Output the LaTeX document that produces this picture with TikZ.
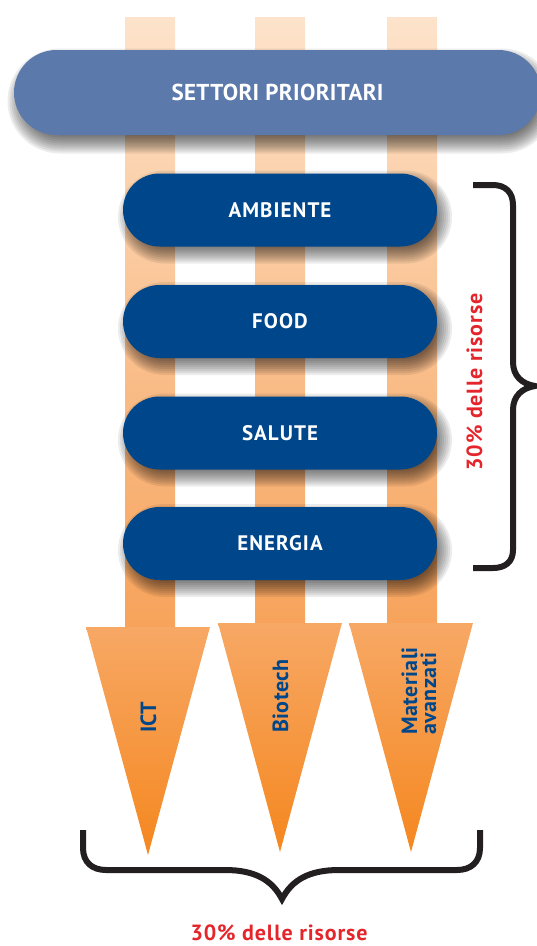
\documentclass[tikz,border=0pt]{standalone}
\usepackage{fontspec}
\setmainfont{PT Sans}
\newfontfamily\topfont[LetterSpace=1.5]{PT Sans}
\newfontfamily\boxfont[LetterSpace=5]{PT Sans}
\newfontfamily\techfont[LetterSpace=2]{PT Sans}
\newfontfamily\resfont[LetterSpace=4]{PT Sans}
\usetikzlibrary{shapes.misc}
\definecolor{topBlue}{HTML}{5C79AB}
\definecolor{darkBlue}{HTML}{00468A}
\definecolor{resRed}{HTML}{E4262C}
\definecolor{braceBlack}{HTML}{231F20}
\definecolor{shaftTop}{HTML}{FDE3CB}
\definecolor{shaftBot}{HTML}{F7A25A}
\definecolor{headTop}{HTML}{F7A865}
\definecolor{headBot}{HTML}{F5871F}
\newcommand\softshadow[4]{%
  \foreach \e in {10,8,...,-8}{%
    \pgfmathsetmacro\rr{#4/2+\e-0.05}%
    \fill[black,opacity=0.075,rounded corners=\rr pt]
      ({#1-#3/2-(\e)},{#2-#4/2-(\e)}) rectangle ({#1+#3/2+(\e)},{#2+#4/2+(\e)});
  }}
\begin{document}
\begin{tikzpicture}[x=1pt,y=-1pt,
  topbox/.style={rounded rectangle, fill=topBlue, minimum width=527pt, minimum height=85pt,
    inner sep=0pt, text=white, font=\fontsize{23}{23}\topfont\bfseries},
  sectorbox/.style={rounded rectangle, fill=darkBlue, minimum width=314pt, minimum height=73pt,
    inner sep=0pt, text=white, font=\fontsize{21}{21}\boxfont\bfseries},
  shaft/.style={top color=shaftTop, bottom color=shaftBot},
  head/.style={top color=headTop, bottom color=headBot},
  techlbl/.style={rotate=90, anchor=base west, inner sep=0pt, text=darkBlue,
    font=\fontsize{22}{22}\techfont\bfseries},
  reslbl/.style={inner sep=0pt, text=resRed, font=\fontsize{22}{22}\resfont\bfseries},
  bracestroke/.style={draw=braceBlack, line width=6pt, line join=miter}]
\useasboundingbox (0,0) rectangle (537,946);
\clip (0,0) rectangle (537,946);
% vertical shafts
\shade[shaft] (125,17) rectangle (175,632);
\shade[shaft] (255,17) rectangle (305,632);
\shade[shaft] (387,17) rectangle (437,632);
% arrowheads
\shade[head] (86,627) -- (210,627) -- (148,855) -- cycle;
\shade[head] (218,623) -- (342,623) -- (280,852) -- cycle;
\shade[head] (349,623) -- (473,623) -- (411,852) -- cycle;
% shadows
\softshadow{281}{101}{527}{85}
\softshadow{285}{217}{314}{73}
\softshadow{285}{328.5}{314}{73}
\softshadow{285}{440}{314}{73}
\softshadow{285}{550.5}{314}{73}
% boxes
\node[topbox] (settori) at (277.5,92.5) {SETTORI PRIORITARI};
\node[sectorbox] (ambiente) at (280,210) {AMBIENTE};
\node[sectorbox] (food) at (280,321.5) {FOOD};
\node[sectorbox] (salute) at (280,433) {SALUTE};
\node[sectorbox] (energia) at (280,543.5) {ENERGIA};
% technology labels
\node[techlbl] (ict) at (156,733) {ICT};
\node[techlbl] (biotech) at (288,733) {Biotech};
\node[techlbl] (materiali) at (417,735) {Materiali};
\node[techlbl] (avanzati) at (436,735) {avanzati};
% braces
\draw[bracestroke] (473,185) -- (493,185) .. controls (505,185) and (513,192) .. (513,205)
  -- (513,362) .. controls (513,376) and (522,384) .. (535,386)
  .. controls (522,388) and (513,396) .. (513,410)
  -- (513,550) .. controls (513,562) and (505,568) .. (493,568) -- (473,568);
\draw[bracestroke] (83,830) -- (83,848) .. controls (83,862) and (92,870) .. (106,870)
  -- (225,870) .. controls (255,870) and (272,880) .. (282,899)
  .. controls (292,880) and (309,870) .. (339,870)
  -- (457,870) .. controls (471,870) and (480,862) .. (480,848) -- (480,830);
% resource labels
\node[reslbl, rotate=90, anchor=base] (resright) at (482,382) {30\% delle risorse};
\node[reslbl, anchor=base] (resbottom) at (279,940) {30\% delle risorse};
\end{tikzpicture}
\end{document}
